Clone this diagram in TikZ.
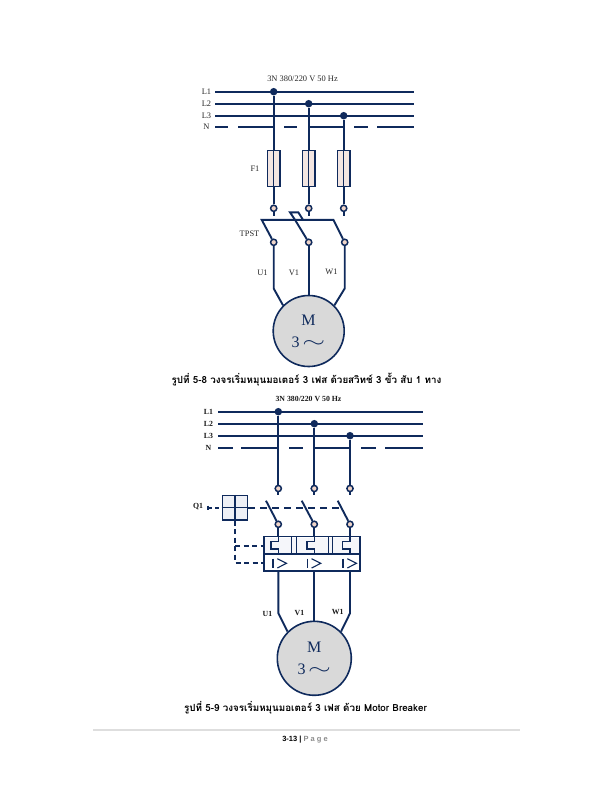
\documentclass[tikz,border=0pt]{standalone}
\usepackage{fontspec}
\usepackage{graphicx}
\setmainfont{Liberation Serif}
\newfontfamily\thaifont[Script=Thai]{Loma}
\newfontfamily\footfont{Liberation Sans}
\usetikzlibrary{calc}
\definecolor{wire}{HTML}{0F2A5C}
\definecolor{fusefill}{HTML}{F3E6E2}
\definecolor{termfill}{HTML}{F0D5C8}
\definecolor{motorfill}{HTML}{D9D9D9}
\definecolor{boxfill}{HTML}{EEF0F6}
\tikzset{
 x=1pt,y=-1pt,
 wireline/.style={draw=wire,line width=1.9pt},
 dashline/.style={draw=wire,line width=1.7pt,dash pattern=on 6pt off 4pt},
 terminal/.style={circle,draw=wire,line width=1.5pt,fill=termfill,minimum size=6.2pt,inner sep=0pt},
 junction/.style={circle,fill=wire,minimum size=7.5pt,inner sep=0pt},
 fusebox/.style={rectangle,draw=wire,line width=1.4pt,fill=fusefill,minimum width=12.5pt,minimum height=36.5pt,inner sep=0pt},
 motor/.style={circle,draw=wire,line width=1.6pt,fill=motorfill,inner sep=0pt},
 small/.style={font=\fontsize{8.4}{9}\selectfont,text=black!85,inner sep=0pt},
 smallb/.style={font=\fontsize{7.8}{9}\selectfont\bfseries,text=black!90,inner sep=0pt},
 bigm/.style={font=\fontsize{16}{18}\selectfont,text=wire,inner sep=0pt,anchor=base},
 caption/.style={font=\thaifont\bfseries\fontsize{9.8}{11}\selectfont,text=black,inner sep=0pt},
}
\newcommand{\threephase}{\smash{3\,\scalebox{1.7}[1.1]{$\sim$}}}
\begin{document}
\begin{tikzpicture}
\useasboundingbox (0,0) rectangle (612,792);
% ---------- upper circuit
\node[small] (ta) at (302.5,79) {3N 380/220 V 50 Hz};
\node[small] (la1) at (206.5,91.5) {L1};
\node[small] (la2) at (206.5,103.5) {L2};
\node[small] (la3) at (206.5,115.5) {L3};
\node[small] (lan) at (206.5,127) {N};
\coordinate (a1w) at (215,91.7); \coordinate (a1e) at (414,91.7);
\coordinate (a2w) at (215,103.7); \coordinate (a2e) at (414,103.7);
\coordinate (a3w) at (215,115.7); \coordinate (a3e) at (414,115.7);
\draw[wireline] (a1w)--(a1e);
\draw[wireline] (a2w)--(a2e);
\draw[wireline] (a3w)--(a3e);
\foreach \p/\q in {215/228,238/273.7,284/297,308.7/343.7,354/368,377/414}
  \draw[wireline] (\p,127.2)--(\q,127.2);
\node[junction] (aj1) at (273.7,91.7) {};
\node[junction] (aj2) at (308.7,103.7) {};
\node[junction] (aj3) at (343.7,115.7) {};
\node[fusebox] (af1) at (273.7,168.5) {};
\node[fusebox] (af2) at (308.7,168.5) {};
\node[fusebox] (af3) at (343.7,168.5) {};
\node[terminal] (at1) at (273.7,208.3) {};
\node[terminal] (at2) at (308.7,208.3) {};
\node[terminal] (at3) at (343.7,208.3) {};
\foreach \n in {1,2,3}{
  \draw[wireline] (aj\n)--(af\n.north);
  \draw[wireline,line width=1pt] (af\n.north)--(af\n.south);
  \draw[wireline] (af\n.south)--(at\n.north);
  \draw[wireline] (at\n.south)--++(0,3.5);
}
\node[small] (af) at (255,168.5) {F1};
\node[terminal] (ab1) at (273.7,242.3) {};
\node[terminal] (ab2) at (308.7,242.3) {};
\node[terminal] (ab3) at (344.7,242.3) {};
\coordinate (sw1) at (261.7,219.8);
\coordinate (sw3) at (333.4,219.8);
\draw[wireline] (ab1)--(sw1)--(sw3)--(ab3);
\draw[wireline] (ab2)--(295,219.8)--(290,212.3)--(298.3,212.3)--(303,219.8);
\node[small] (atp) at (249.5,234) {TPST};
\node[motor,minimum size=71pt] (am) at (308.7,331) {};
\coordinate (ak1) at (273.7,288.5);
\coordinate (ak3) at (344.7,288.5);
\draw[wireline] (ab1)--(ak1)--(am.135);
\draw[wireline] (ab2)--(ab2 |- am.north);
\draw[wireline] (ab3)--(ak3)--(am.45);
\node[small] (au) at (262.5,273) {U1};
\node[small] (av) at (294,273) {V1};
\node[small] (aw) at (331.5,272) {W1};
\node[bigm] (amm) at (308.5,325) {M};
\node[bigm] (am3) at (308.5,347) {\threephase};
\node[caption] (ca) at (306.5,380) {รูปที่ 5-8 วงจรเริ่มหมุนมอเตอร์ 3 เฟส ด้วยสวิทช์ 3 ขั้ว สับ 1 ทาง};
% ---------- lower circuit
\node[smallb] (tb) at (308.5,398.5) {3N 380/220 V 50 Hz};
\node[smallb] (lb1) at (208.5,411.5) {L1};
\node[smallb] (lb2) at (208.5,423.7) {L2};
\node[smallb] (lb3) at (208.5,435.7) {L3};
\node[smallb] (lbn) at (208.5,447.7) {N};
\foreach \yy in {411.7,423.7,435.7}
  \draw[wireline] (218.3,\yy)--(423.3,\yy);
\foreach \p/\q in {218.3/233,241/278.3,289/303,314.3/350,361/376,385/423.3}
  \draw[wireline] (\p,447.7)--(\q,447.7);
\node[junction] (bj1) at (278.3,411.7) {};
\node[junction] (bj2) at (314.3,423.7) {};
\node[junction] (bj3) at (350,435.7) {};
\node[terminal] (bt1) at (278.3,488.5) {};
\node[terminal] (bt2) at (314.3,488.5) {};
\node[terminal] (bt3) at (350,488.5) {};
\node[terminal] (bb1) at (278.3,524.3) {};
\node[terminal] (bb2) at (314.3,524.3) {};
\node[terminal] (bb3) at (350,524.3) {};
\coordinate (bl1) at (266,500.7);
\coordinate (bl2) at (301.7,500.7);
\coordinate (bl3) at (337.7,500.7);
\foreach \n in {1,2,3}{
  \draw[wireline] (bj\n)--(bt\n.north);
  \draw[wireline] (bt\n.south)--++(0,3);
  \draw[wireline] (bb\n)--(bl\n);
}
% handle
\node[rectangle,draw=wire,line width=1.5pt,fill=boxfill,minimum width=25.4pt,minimum height=24.3pt,inner sep=0pt] (hb) at (235,507.8) {};
\draw[wireline,line width=1.1pt] (hb.north)--(hb.south);
\draw[wireline,line width=1.1pt] (hb.west)--(hb.east);
\node[smallb] (lq) at (198,507) {Q1};
\coordinate (qd) at (208.3,507.8);
\draw[wireline,line width=1.8pt] (208,505.5)--(208,510);
\draw[dashline,dash pattern=on 4pt off 3pt] (qd)--(hb.west);
\coordinate (de) at (341.7,507.8);
\draw[dashline,dash pattern=on 7pt off 5pt] (hb.east)--(de);
% breaker
\node[rectangle,draw=wire,line width=1.5pt,fill=white,minimum width=96pt,minimum height=34.3pt,inner sep=0pt] (brk) at (312,553.8) {};
\coordinate (bm) at (264,554.3);
\fill[boxfill!60!white] (265,537.5) rectangle (359,553.8);
\draw[wireline] (brk.west |- bm)--(brk.east |- bm);
\foreach \xx in {278.4,314.3,350}{
  \draw[wireline,line width=1.3pt] (\xx,536.7)--(\xx,541.5)--(\xx-7.3,541.5)--(\xx-7.3,549)--(\xx,549)--(\xx,554.3);
}
\draw[wireline] (bb1.south)--(bb1.south |- brk.north);
\draw[wireline] (bb2.south)--(bb2.south |- brk.north);
\draw[wireline] (bb3.south)--(bb3.south |- brk.north);
\foreach \xx in {291.5,296.5,328,332.5}
  \draw[wireline,line width=1pt] (\xx,537)--(\xx,554);
\foreach \xx in {273,307.3,343}{
  \draw[wireline,line width=1.1pt] (\xx,558.7)--(\xx,568);
  \draw[wireline,line width=1.1pt] (\xx+4.3,558.7)--(\xx+13.5,563.3)--(\xx+4.3,568);
}
\draw[dashline,dash pattern=on 5pt off 3.5pt] (hb.south)--(235,562.7)--(brk.west |- 0,562.7);
\draw[dashline,dash pattern=on 5pt off 3.5pt] (235,546)--(brk.west |- 0,546);
% motor
\node[motor,minimum size=74pt] (bm0) at (314.3,658.3) {};
\coordinate (bk1) at (278.4,613.3);
\coordinate (bk3) at (350,613.3);
\draw[wireline] (brk.south -| bb1)--(bk1)--(bm0.135);
\draw[wireline] (brk.south -| bb2)--(bb2 |- bm0.north);
\draw[wireline] (brk.south -| bb3)--(bk3)--(bm0.45);
\node[smallb] (bu) at (267.5,614) {U1};
\node[smallb] (bv) at (299.5,613) {V1};
\node[smallb] (bw) at (337.7,612) {W1};
\node[bigm] (bmm) at (314.3,652.7) {M};
\node[bigm] (bm3) at (314.3,674.5) {\threephase};
\node[caption] (cb) at (305.5,707.7) {รูปที่ 5-9 วงจรเริ่มหมุนมอเตอร์ 3 เฟส ด้วย Motor Breaker};
% footer
\coordinate (fl) at (93,730); \coordinate (fr) at (520,730);
\draw[draw=black!13,line width=1.4pt] (fl)--(fr);
\node[font=\footfont\bfseries\fontsize{7.5}{9}\selectfont,inner sep=0pt] (ft) at (305,740) {3-13 | \textcolor{black!45}{P a g e}};
\end{tikzpicture}
\end{document}
